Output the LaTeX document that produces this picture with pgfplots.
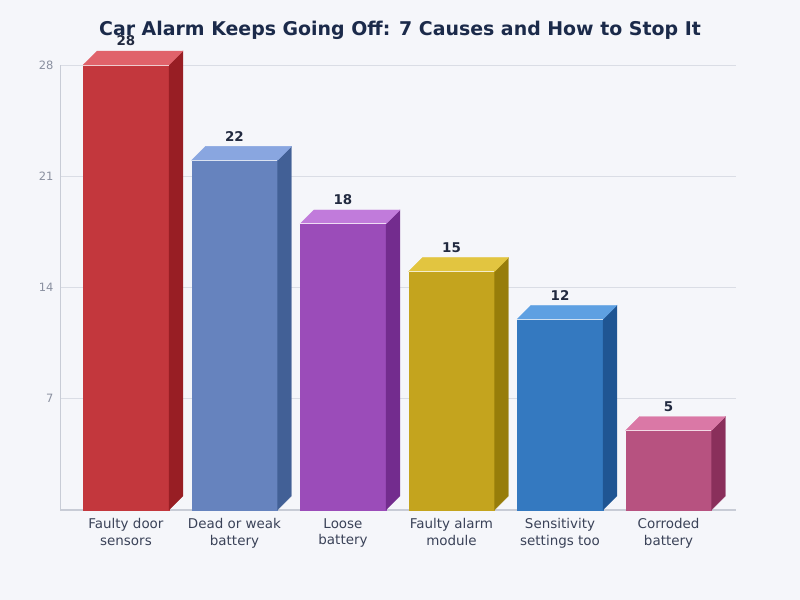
\documentclass[border=0pt]{standalone}
\usepackage{pgfplots}
\pgfplotsset{compat=1.18}
\usepackage{fontspec}
\setmainfont{DejaVu Sans}

\definecolor{bg}{HTML}{F5F6FA}
\definecolor{titlec}{HTML}{1B2A4A}
\definecolor{labc}{HTML}{3A4258}
\definecolor{tickc}{HTML}{8A90A0}
\definecolor{gridc}{HTML}{DADDE5}
\definecolor{axc}{HTML}{C8CCD6}
\definecolor{valc}{HTML}{222A40}
% front / side / top per bar
\definecolor{f1}{HTML}{C3373D}\definecolor{s1}{HTML}{981E24}\definecolor{t1}{HTML}{E0626A}
\definecolor{f2}{HTML}{6683BE}\definecolor{s2}{HTML}{426096}\definecolor{t2}{HTML}{89A6E0}
\definecolor{f3}{HTML}{9B4CB9}\definecolor{s3}{HTML}{732C8E}\definecolor{t3}{HTML}{C17BDB}
\definecolor{f4}{HTML}{C4A41E}\definecolor{s4}{HTML}{977D0A}\definecolor{t4}{HTML}{E2C540}
\definecolor{f5}{HTML}{3479C0}\definecolor{s5}{HTML}{1F5593}\definecolor{t5}{HTML}{5EA0E2}
\definecolor{f6}{HTML}{B75280}\definecolor{s6}{HTML}{8A2F5B}\definecolor{t6}{HTML}{DA78A6}

% one 3-D bar: position, value, colour suffix
\newcommand\cubebar[3]{%
  \pgfmathsetmacro\xa{#1-0.396}%
  \pgfmathsetmacro\xb{#1+0.396}%
  \pgfmathsetmacro\xc{#1+0.396+0.129}%
  \pgfmathsetmacro\xd{#1-0.396+0.129}%
  \pgfmathsetmacro\ya{#2+0.88}%
  \addplot[fill=f#3, draw=f#3, line width=0.3pt] coordinates {(\xa,0) (\xb,0) (\xb,#2) (\xa,#2)};
  \addplot[fill=s#3, draw=s#3, line width=0.3pt] coordinates {(\xb,0) (\xc,0.88) (\xc,\ya) (\xb,#2)};
  \addplot[fill=t#3, draw=t#3, line width=0.3pt] coordinates {(\xa,#2) (\xd,\ya) (\xc,\ya) (\xb,#2)};
  \addplot[draw=white, draw opacity=0.75, line width=0.9bp] coordinates {(\xa,#2) (\xb,#2)};
  \node[anchor=south, yshift=15.5bp, text=valc, font=\fontsize{13.5}{15}\selectfont\bfseries] at (axis cs:#1,#2) {#2};
}

\begin{document}
\begin{tikzpicture}
\fill[bg] (0,0) rectangle (800bp,600bp);
\useasboundingbox (0,0) rectangle (800bp,600bp);
\begin{axis}[
    at={(60bp,90bp)}, anchor=south west,
    scale only axis,
    width=676bp, height=445bp,
    xmin=-0.608, xmax=5.622,
    ymin=0, ymax=28,
    clip=false,
    axis x line*=bottom, axis y line*=left,
    x axis line style={-, draw=axc, line width=1.5bp},
    y axis line style={-, draw=axc, line width=0.8bp},
    xtick={0,1,2,3,4,5},
    xticklabels={Faulty door\\sensors, Dead or weak\\battery, Loose\\battery, Faulty alarm\\module, Sensitivity\\settings too, Corroded\\battery},
    xticklabel style={align=center, text=labc, font=\fontsize{13.5}{16.5}\selectfont, yshift=-5bp},
    ytick={7,14,21,28},
    yticklabel style={text=tickc, font=\fontsize{11.5}{13}\selectfont, xshift=-3bp},
    /pgf/number format/assume math mode=true,
    major tick length=0pt,
    tick style={draw=none},
    ymajorgrids=true,
    grid style={draw=gridc, line width=0.8bp},
]
\cubebar{0}{28}{1}
\cubebar{1}{22}{2}
\cubebar{2}{18}{3}
\cubebar{3}{15}{4}
\cubebar{4}{12}{5}
\cubebar{5}{5}{6}
\end{axis}
\node[text=titlec, font=\fontsize{19}{22}\selectfont\bfseries] at (400bp,570bp)
  {Car Alarm Keeps Going Off: 7 Causes and How to Stop It};
\end{tikzpicture}
\end{document}
